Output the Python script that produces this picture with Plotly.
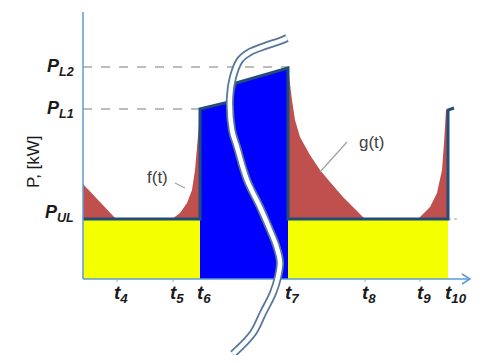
import plotly.graph_objects as go

# ---- data (time units on x, kW units on y) ----
tick_subs = ["4", "5", "6", "7", "8", "9", "10"]
tick_pos = [3.4, 9.0, 11.7, 20.5, 28.2, 33.7, 36.5]
t_axis_end = 38.7
P_UL = 6.0
P_L1 = 17.0
P_L2 = 21.2
P_top = 26.7
level_subs = ["L2", "L1", "UL"]
level_vals = [P_L2, P_L1, P_UL]

# load block (blue) top edge
blue_t = [11.7, 14.6, 15.3, 20.5]
blue_p = [17.0, 17.7, 19.6, 21.1]

# red areas
left_red_t = [0.0, 0.0, 3.3]
left_red_p = [6.0, 9.5, 6.0]
f_t = [8.9, 9.7, 10.4, 10.9, 11.2, 11.4, 11.55, 11.7]
f_p = [6.0, 6.6, 7.6, 8.9, 10.9, 12.9, 14.9, 17.0]
g_t = [20.5, 20.7, 20.9, 21.2, 21.7, 22.7, 23.7, 24.7, 26.0, 27.2, 28.2]
g_p = [21.1, 19.4, 17.9, 15.9, 14.2, 12.4, 10.9, 9.7, 8.2, 7.0, 6.0]
spike_t = [33.5, 34.7, 35.4, 35.9, 36.1, 36.3, 36.5]
spike_p = [6.0, 7.2, 8.6, 10.9, 13.6, 16.9, 16.9]
end_stub_t = [36.5, 37.1]
end_stub_p = [16.9, 17.1]

# break curve
break_t = [20.4, 19.7, 18.2, 16.7, 15.7, 15.0, 14.7, 14.9, 15.4, 16.4, 17.7,
           18.7, 19.3, 19.7, 19.5, 19.0, 18.0, 17.0, 15.0]
break_p = [24.1, 23.8, 23.3, 22.7, 21.9, 20.2, 18.2, 14.9, 13.2, 9.9, 7.2,
           4.9, 3.4, 1.7, 0.2, -1.4, -3.4, -5.4, -7.5]

YELLOW = "#f4ff00"
BLUE = "#0000ff"
RED = "#c0504d"
BORDER = "#1f4e79"
AXIS = "#5b9bd5"
DASH = "#a6a6a6"

fig = go.Figure()

def poly(xs, ys, color):
    fig.add_trace(go.Scatter(x=xs, y=ys, fill="toself", fillcolor=color,
                             mode="lines", line=dict(width=0, color=color),
                             hoverinfo="skip", showlegend=False))

def line(xs, ys, color, width, dash=None, shape="linear"):
    fig.add_trace(go.Scatter(x=xs, y=ys, mode="lines",
                             line=dict(color=color, width=width, dash=dash, shape=shape),
                             hoverinfo="skip", showlegend=False))

t6, t7, t10 = tick_pos[2], tick_pos[3], tick_pos[6]

# yellow base blocks
poly([0, t6, t6, 0], [0, 0, P_UL, P_UL], YELLOW)
poly([t7, t10, t10, t7], [0, 0, P_UL, P_UL], YELLOW)
# blue load block
poly([t6] + blue_t + [t7], [0] + blue_p + [0], BLUE)
# red areas
poly(left_red_t, left_red_p, RED)
poly(f_t + [t6], f_p + [P_UL], RED)
poly(g_t + [t7], g_p + [P_UL], RED)
poly(spike_t + [t10], spike_p + [P_UL], RED)

# dashed level lines
line([0, t7], [P_L2, P_L2], DASH, 1.5, "dash")
line([0, t6], [P_L1, P_L1], DASH, 1.5, "dash")
line([t10, t10 + 1.2], [P_UL, P_UL], DASH, 1, "dot")

# border line
line([0, t6] + blue_t + [t7, t10] + end_stub_t,
     [P_UL, P_UL] + blue_p + [P_UL, P_UL] + end_stub_p, BORDER, 3)

# leader lines
line([9.2, 10.2], [9.6, 9.1], "#a0a0a0", 1.2)
line([26.4, 23.7], [13.7, 10.7], "#a0a0a0", 1.2)

# axes
line([0, 0], [0, P_top], AXIS, 1.5)
line([0, t_axis_end], [0, 0], AXIS, 1.5)
line([t_axis_end - 0.8, t_axis_end, t_axis_end - 0.8], [0.5, 0, -0.5], AXIS, 1.5)
for tp in [tick_pos[0], tick_pos[1], tick_pos[4], tick_pos[5]]:
    line([tp, tp], [0, -0.3], "#b0b0b0", 1)

# break curve (double line, white inside)
line(break_t, break_p, "#56779a", 8, shape="spline")
line(break_t, break_p, "white", 4.5, shape="spline")

FONT = "Liberation Sans"
for sub, tp in zip(tick_subs, tick_pos):
    fig.add_annotation(x=tp - 0.5, y=-1.5, xanchor="left", yanchor="middle",
                       text="<b><i>t<sub>%s</sub></i></b>" % sub, showarrow=False,
                       font=dict(family=FONT, size=19, color="#1a1a1a"))
for sub, v in zip(level_subs, level_vals):
    fig.add_annotation(x=-0.7, y=v + (0.6 if v == P_UL else 0.0), xanchor="right",
                       yanchor="middle", text="<b><i>P<sub>%s</sub></i></b>" % sub,
                       showarrow=False, font=dict(family=FONT, size=18, color="#1a1a1a"))
fig.add_annotation(x=-5.0, y=11.7, text="P, [kW]", textangle=-90, showarrow=False,
                   font=dict(family=FONT, size=17, color="#1a1a1a"))
fig.add_annotation(x=7.4, y=10.2, text="f(t)", showarrow=False,
                   font=dict(family=FONT, size=17, color="#404040"))
fig.add_annotation(x=28.9, y=13.7, text="g(t)", showarrow=False,
                   font=dict(family=FONT, size=17, color="#404040"))

# page body has an 8px margin: figure is sized/ranged so it lands where the reference is
fig.update_layout(width=485, height=347, margin=dict(l=0, r=0, t=0, b=0),
                  paper_bgcolor="white", plot_bgcolor="white", showlegend=False,
                  xaxis=dict(range=[-7.5, 41.0], visible=False, fixedrange=True),
                  yaxis=dict(range=[-7.6, 27.1], visible=False, fixedrange=True))
fig.write_html("out.html")
